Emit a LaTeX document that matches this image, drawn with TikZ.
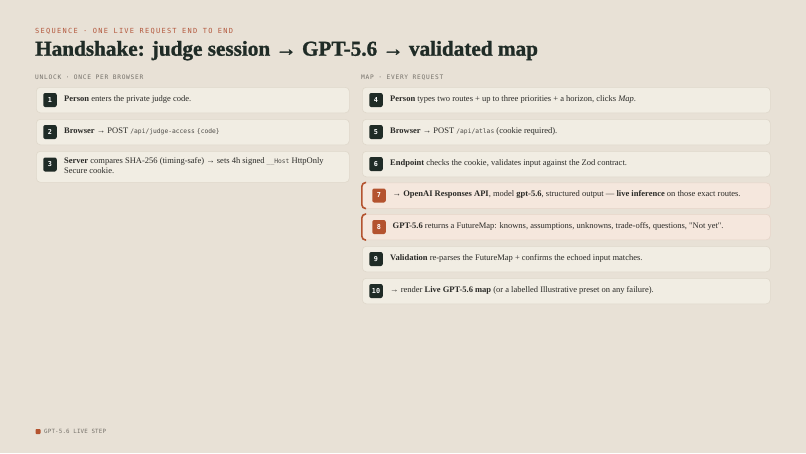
\documentclass[tikz,border=0pt]{standalone}
\usepackage{fontspec}
\setmainfont{Liberation Serif}
\newfontfamily\titlef[FakeBold=1.2]{Liberation Serif Bold}
\newfontfamily\eyebrowf[LetterSpace=18]{DejaVu Sans Mono}
\newfontfamily\labelf[LetterSpace=12]{DejaVu Sans Mono}
\newfontfamily\footf[LetterSpace=3]{DejaVu Sans Mono}
\newfontfamily\codef{DejaVu Sans Mono}
\newfontfamily\quotef[Ligatures=TeXOff]{Liberation Serif}
\newcommand{\cd}[1]{{\codef\fontsize{6.3}{8}\selectfont\color{codec}#1}}
\newcommand{\sq}{{\quotef"}}
\definecolor{bg}{HTML}{E8E1D6}
\definecolor{cardfill}{HTML}{F1EDE3}
\definecolor{cardline}{HTML}{DFD8CB}
\definecolor{hifill}{HTML}{F5E7DD}
\definecolor{hiline}{HTML}{E6D5C9}
\definecolor{rust}{HTML}{B4532F}
\definecolor{eyebrow}{HTML}{B3583D}
\definecolor{dark}{HTML}{1F2B26}
\definecolor{ink}{HTML}{2A2A27}
\definecolor{labelc}{HTML}{75716A}
\definecolor{codec}{HTML}{4A4844}
\begin{document}
\begin{tikzpicture}[x=1pt,y=-1pt,
  card/.style={draw=cardline, fill=cardfill, rounded corners=4pt, line width=0.6pt, anchor=north west, inner sep=0pt, minimum height=25.5pt},
  hicard/.style={card, draw=hiline, fill=hifill},
  badge/.style={fill=dark, rounded corners=2pt, minimum width=13.5pt, minimum height=14pt, inner sep=0pt, text=white, font=\codef\bfseries\fontsize{6.8}{7}\selectfont},
  hibadge/.style={badge, fill=rust},
  btxt/.style={anchor=base west, inner sep=0pt, text=ink, align=left, font=\fontsize{8.5}{10.5}\selectfont},
  lbl/.style={anchor=base west, inner sep=0pt, text=labelc, font=\labelf\fontsize{6.2}{7}\selectfont}
]
\path[use as bounding box, fill=bg] (0,0) rectangle (806,453);

% header
\node[anchor=base west, inner sep=0pt, text=eyebrow, font=\eyebrowf\fontsize{7}{8}\selectfont] (eyebrow) at (35,33) {SEQUENCE · ONE LIVE REQUEST END TO END};
\node[anchor=base west, inner sep=0pt, text=dark, font=\titlef\fontsize{21.2}{24}\selectfont] (title) at (35,55.7) {Handshake: judge session → GPT-5.6 → validated map};

% column labels
\node[lbl] (lblL) at (35,79.5) {UNLOCK · ONCE PER BROWSER};
\node[lbl] (lblR) at (361,79.5) {MAP · EVERY REQUEST};

% left column
\node[card, minimum width=313pt] (c1) at (36,87) {};
\node[badge] (b1) at (50,100) {1};
\node[btxt] (t1) at (64,101) {\textbf{Person} enters the private judge code.};

\node[card, minimum width=313pt] (c2) at (36,119) {};
\node[badge] (b2) at (50,132) {2};
\node[btxt] (t2) at (64,133) {\textbf{Browser} → POST \cd{/api/judge-access} \cd{\{code\}}};

\node[card, minimum width=313pt, minimum height=31pt] (c3) at (36,151) {};
\node[badge] (b3) at (50,164.5) {3};
\node[btxt] (t3) at (64,173.5) {\textbf{Server} compares SHA-256 (timing-safe) → sets 4h signed \cd{\_\_Host} HttpOnly\\Secure cookie.};

% right column
\node[card, minimum width=408pt] (c4) at (362,87) {};
\node[badge] (b4) at (376,100) {4};
\node[btxt] (t4) at (390,101) {\textbf{Person} types two routes + up to three priorities + a horizon, clicks \textit{Map}.};

\node[card, minimum width=408pt] (c5) at (362,119) {};
\node[badge] (b5) at (376,132) {5};
\node[btxt] (t5) at (390,133) {\textbf{Browser} → POST \cd{/api/atlas} (cookie required).};

\node[card, minimum width=408pt] (c6) at (362,151) {};
\node[badge] (b6) at (376,164) {6};
\node[btxt] (t6) at (390,165) {\textbf{Endpoint} checks the cookie, validates input against the Zod contract.};

\node[hicard, minimum width=409pt] (c7) at (361,182.5) {};
\draw[rust, line width=1.6pt, rounded corners=4pt] ([xshift=5pt]c7.north west) -- ([xshift=0.8pt]c7.north west) -- ([xshift=0.8pt]c7.south west) -- ([xshift=5pt]c7.south west);
\node[hibadge] (b7) at (379,195.5) {7};
\node[btxt] (t7) at (392.5,196.5) {→ \textbf{OpenAI Responses API}, model \textbf{gpt-5.6}, structured output — \textbf{live inference} on those exact routes.};

\node[hicard, minimum width=409pt] (c8) at (361,214) {};
\draw[rust, line width=1.6pt, rounded corners=4pt] ([xshift=5pt]c8.north west) -- ([xshift=0.8pt]c8.north west) -- ([xshift=0.8pt]c8.south west) -- ([xshift=5pt]c8.south west);
\node[hibadge] (b8) at (379,227) {8};
\node[btxt] (t8) at (392.5,228) {\textbf{GPT-5.6} returns a FutureMap: knowns, assumptions, unknowns, trade-offs, questions, \sq Not yet\sq.};

\node[card, minimum width=408pt] (c9) at (362,246) {};
\node[badge] (b9) at (376,259) {9};
\node[btxt] (t9) at (390,260) {\textbf{Validation} re-parses the FutureMap + confirms the echoed input matches.};

\node[card, minimum width=408pt] (c10) at (362,278) {};
\node[badge] (b10) at (376,291) {10};
\node[btxt] (t10) at (390,292) {→ render \textbf{Live GPT-5.6 map} (or a labelled Illustrative preset on any failure).};

% footer legend
\node[fill=rust, minimum size=5pt, inner sep=0pt, rounded corners=0.8pt] (legsq) at (38,431.5) {};
\node[anchor=base west, inner sep=0pt, text=labelc, font=\footf\fontsize{5.8}{7}\selectfont] (legtxt) at (44,433.5) {GPT-5.6 LIVE STEP};
\end{tikzpicture}
\end{document}
